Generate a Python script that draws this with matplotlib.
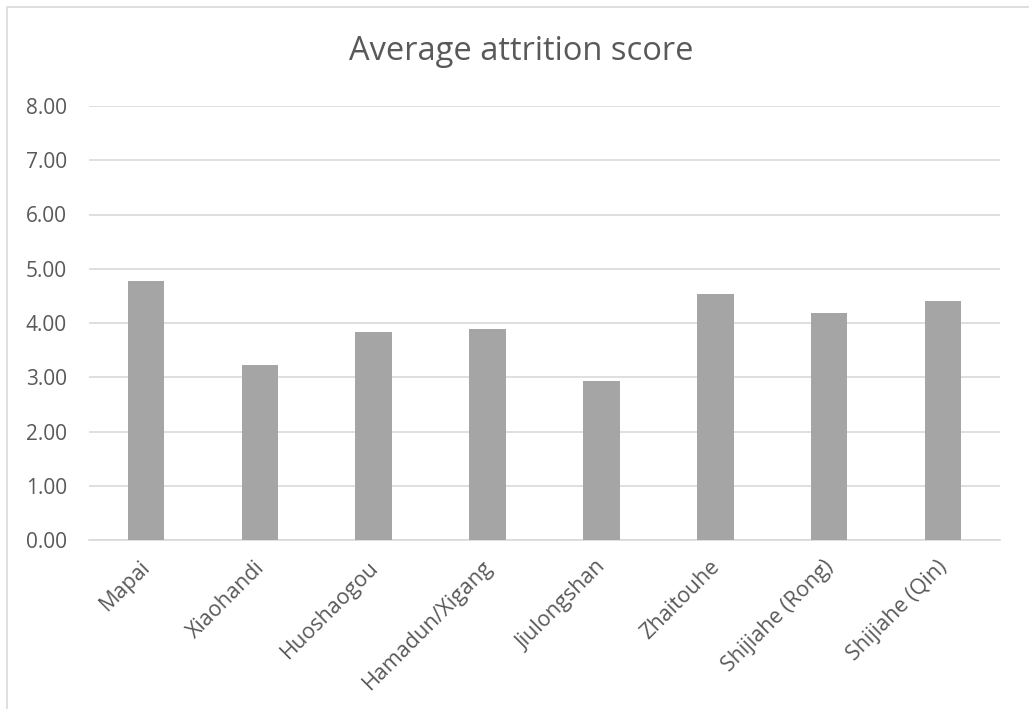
import matplotlib
matplotlib.use("Agg")
import matplotlib.pyplot as plt
import matplotlib.transforms as mtransforms
from matplotlib.patches import Rectangle

sites = ["Mapai", "Xiaohandi", "Huoshaogou", "Hamadun/Xigang", "Jiulongshan",
         "Zhaitouhe", "Shijiahe (Rong)", "Shijiahe (Qin)"]
scores = [4.78, 3.22, 3.83, 3.89, 2.93, 4.54, 4.18, 4.41]
yticks = [0, 1, 2, 3, 4, 5, 6, 7, 8]

plt.rcParams["font.family"] = ["Open Sans", "DejaVu Sans"]

W, H = 1029, 709
fig = plt.figure(figsize=(W / 100, H / 100), dpi=100)

# chart frame (runs past the right and bottom edges)
fig.patches.append(Rectangle((6.5 / W, -0.05), 1.1, 1.05 - 7 / H,
                             transform=fig.transFigure, fill=False,
                             edgecolor="#D9D9D9", linewidth=1.2))

ax = fig.add_axes([89 / W, 1 - 540 / H, (1000 - 89) / W, (540 - 106) / H])
x = list(range(len(sites)))
ax.bar(x, scores, width=0.32, color="#A5A5A5", zorder=3)

ax.set_xlim(-0.5, len(sites) - 0.5)
ax.set_ylim(0, 8)
ax.set_yticks(yticks)
ax.set_yticklabels([f"{v:.2f}" for v in yticks])
ax.yaxis.grid(True, color="#D9D9D9", linewidth=1.2, zorder=0)
ax.set_axisbelow(True)
for side in ["left", "right", "top"]:
    ax.spines[side].set_visible(False)
ax.spines["bottom"].set_color("#D9D9D9")
ax.spines["bottom"].set_linewidth(1.2)
ax.tick_params(axis="y", length=0, pad=16, labelsize=15, labelcolor="#595959")
ax.tick_params(axis="x", length=0, pad=12, labelsize=15.5, labelcolor="#595959")
ax.set_xticks(x)
ax.set_xticklabels(sites, rotation=45, ha="right", rotation_mode="anchor")
shift = mtransforms.ScaledTranslation(-0.06, 0, fig.dpi_scale_trans)
for lbl in ax.get_xticklabels():
    lbl.set_transform(lbl.get_transform() + shift)

fig.text(521 / W, 1 - 52 / H, "Average attrition score", ha="center", va="center",
         fontsize=23.5, color="#595959")

fig.savefig("out.png", dpi=100)
